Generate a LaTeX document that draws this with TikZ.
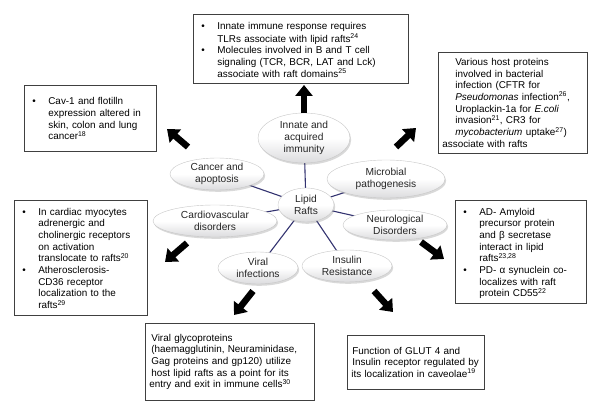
\documentclass[tikz,border=0pt]{standalone}
\usepackage{fontspec}
\setmainfont{Liberation Sans}
\usetikzlibrary{shapes.geometric,arrows.meta,shadows}
\pgfdeclarelayer{background}
\pgfsetlayers{background,main}
\newcommand\bitem[1]{\par\lineskip=0pt\noindent\makebox[20pt][l]{\hspace{4pt}\textbullet}\parbox[t]{\dimexpr\hsize-20pt\relax}{\raggedright\strut #1\strut}\par}
\newcommand\sps[1]{\textsuperscript{#1}}
\begin{document}
\begin{tikzpicture}[x=1pt,y=-1pt,
 txt/.style={font=\fontsize{9.9}{11.7}\selectfont},
 box/.style={draw=black!75, line width=0.7pt, anchor=north west, align=left, inner xsep=4pt, inner ysep=3pt, txt, fill=white},
 bub/.style={ellipse, draw=black!22, line width=0.4pt, top color=white, bottom color=blue!6!black!14, middle color=white, align=center, inner sep=0pt, font=\fontsize{10.2}{12}\selectfont, text=black!85, drop shadow={opacity=0.3,shadow xshift=1.2pt,shadow yshift=-1.8pt}},
 spoke/.style={draw=blue!30!black!80, line width=1.1pt},
 bigarrow/.style={draw=black, line width=6.5pt, -{Triangle[width=17pt,length=11pt]}}
]
\useasboundingbox (0,0) rectangle (600,409);

% bubbles
\node[bub, minimum width=92pt, minimum height=50pt] (inn) at (304,138) {Innate and\\acquired\\immunity};
\node[bub, minimum width=94pt, minimum height=32pt] (can) at (217,174) {Cancer and\\apoptosis};
\node[bub, minimum width=118pt, minimum height=38pt] (mic) at (386,179) {Microbial\\pathogenesis};
\node[bub, minimum width=56pt, minimum height=34pt] (lr) at (306,205) {Lipid\\Rafts};
\node[bub, minimum width=124pt, minimum height=32pt] (car) at (215,221) {Cardiovascular\\disorders};
\node[bub, minimum width=104pt, minimum height=30pt] (neu) at (395,225) {Neurological\\Disorders};
\node[bub, minimum width=80pt, minimum height=32pt] (vir) at (258,268) {Viral\\infections};
\node[bub, minimum width=90pt, minimum height=32pt] (ins) at (347,266) {Insulin\\Resistance};

\begin{pgfonlayer}{background}
\foreach \t in {inn,can,mic,car,neu,vir,ins}
  \draw[spoke] (lr.center) -- (\t.center);
\end{pgfonlayer}

% boxes
\node[box, text width=207pt, minimum height=66pt] (b1) at (193,14) {%
\bitem{Innate immune response requires\\TLRs associate with lipid rafts\sps{24}}%
\bitem{Molecules involved in B and T cell\\signaling (TCR, BCR, LAT and Lck)\\associate with raft domains\sps{25}}};

\node[box, text width=124pt, minimum height=66pt] (b2) at (24,85) {%
\bitem{Cav-1 and flotilln\\expression altered in\\skin, colon and lung\\cancer\sps{18}}};

\node[box, text width=141pt, minimum height=101pt] (b3) at (438,52) {%
\leftskip=13pt Various host proteins\\involved in bacterial\\infection (CFTR for\\\textit{Pseudomonas} infection\sps{26},\\Uroplackin-1a for \textit{E.coli}\\invasion\sps{21}, CR3 for\\\textit{mycobacterium} uptake\sps{27})\\associate with rafts};

\node[box, text width=125pt, minimum height=114pt] (b4) at (14,200) {%
\bitem{In cardiac myocytes\\adrenergic and\\cholinergic receptors\\on activation\\translocate to rafts\sps{20}}%
\bitem{Atherosclerosis-\\CD36 receptor\\localization to the\\rafts\sps{29}}};

\node[box, text width=123pt, minimum height=103pt] (b5) at (455,200) {%
\bitem{AD- Amyloid\\precursor protein\\and β secretase\\interact in lipid\\rafts\sps{23,28}}%
\bitem{PD- α synuclein co-\\localizes with raft\\protein CD55\sps{22}}};

\node[box, text width=161pt, minimum height=77pt] (b6) at (145,323) {%
\leftskip=2pt Viral glycoproteins\\(haemagglutinin, Neuraminidase,\\Gag proteins and gp120) utilize\\host lipid rafts as a point for its\\entry and exit in immune cells\sps{30}};

\node[box, text width=129pt, minimum height=54pt] (b7) at (347,335) {%
\leftskip=1pt Function of GLUT 4 and\\Insulin receptor regulated by\\its localization in caveolae\sps{19}};

% arrows
\coordinate (a1s) at (304,113); \coordinate (a1e) at (304,85);
\coordinate (a2s) at (188,147); \coordinate (a2e) at (167,129);
\coordinate (a3s) at (396,147); \coordinate (a3e) at (416,128);
\coordinate (a4s) at (187,243); \coordinate (a4e) at (165,262);
\coordinate (a5s) at (421,242); \coordinate (a5e) at (444,259);
\coordinate (a6s) at (253,291); \coordinate (a6e) at (234,315);
\coordinate (a7s) at (374,291); \coordinate (a7e) at (393,312);
\foreach \i in {1,...,7}
  \draw[bigarrow] (a\i s) -- (a\i e);
\end{tikzpicture}
\end{document}
